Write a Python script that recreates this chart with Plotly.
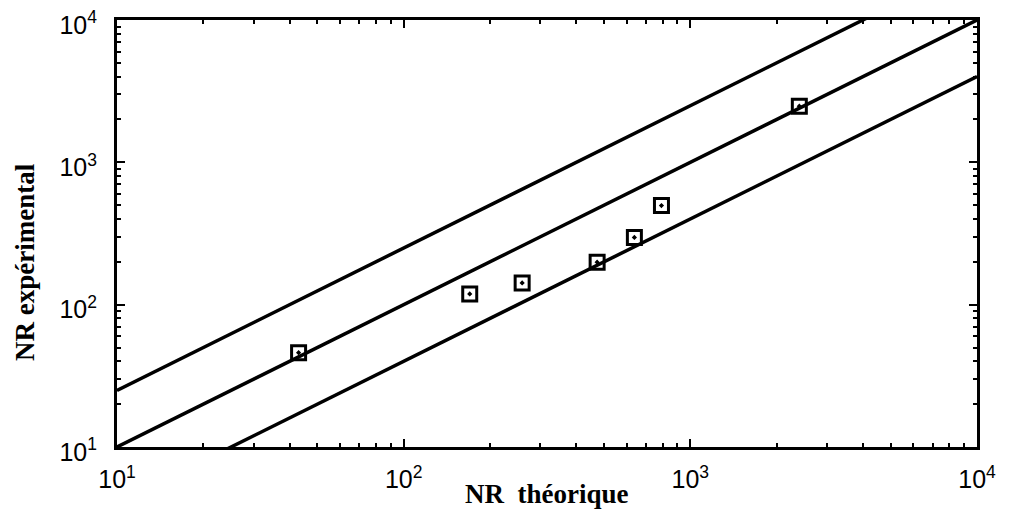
import plotly.graph_objects as go

# ---- data ----
nr_theorique = [43, 170, 259, 473, 638, 793, 2400]
nr_experimental = [46, 119, 142, 199, 297, 497, 2480]

# reference lines y = ratio * x
line_ratios = [2.5, 1.0, 0.4]
line_x = [10, 10000]

decade_vals = [10, 100, 1000, 10000]
decade_text = ["10<sup>1</sup>", "10<sup>2</sup>", "10<sup>3</sup>", "10<sup>4</sup>"]
minor_vals = [m * d for d in [10, 100, 1000] for m in range(2, 10)]

# page body has an 8px margin: figure is drawn at (8, 8)
OFF = 8
W, H = 1011 - OFF, 510 - OFF
L, T = 117 - OFF, 20 - OFF
pw, ph = 860, 427
R, B = W - L - pw, H - T - ph

fig = go.Figure()
for r in line_ratios:
    fig.add_trace(go.Scatter(
        x=line_x, y=[r * v for v in line_x], mode="lines",
        line=dict(color="black", width=3.5), showlegend=False, hoverinfo="skip"))

fig.add_trace(go.Scatter(
    x=nr_theorique, y=nr_experimental, mode="markers",
    marker=dict(symbol="square-open-dot", size=14, color="black",
                line=dict(color="black", width=3)),
    showlegend=False))

tickfont = dict(family="Liberation Sans, Arial, sans-serif", size=25, color="black")
axis_common = dict(
    type="log", showgrid=False, zeroline=False, automargin=False,
    showline=True, linecolor="black", linewidth=3, mirror="allticks",
    ticks="inside", ticklen=8, tickwidth=2, tickcolor="black",
    tickmode="array", tickvals=decade_vals, ticktext=decade_text,
    tickfont=tickfont, ticklabeloverflow="allow",
    minor=dict(ticks="inside", ticklen=4, tickwidth=2, tickcolor="black",
               tickmode="array", tickvals=minor_vals, showgrid=False),
)

fig.update_xaxes(range=[1, 4], ticklabelstandoff=8, **axis_common)
fig.update_yaxes(range=[1, 4], ticklabelstandoff=12, ticklabelshift=5, **axis_common)

titlefont = dict(family="Liberation Serif, Times New Roman, serif", size=27, color="black")
fig.add_annotation(text="<b>NR  théorique</b>", xref="paper", yref="paper",
                   x=(547 - 117) / pw, y=(447 - 494) / ph, xanchor="center", yanchor="middle",
                   showarrow=False, font=titlefont)
fig.add_annotation(text="<b>NR expérimental</b>", xref="paper", yref="paper",
                   x=(25 - 117) / pw, y=(447 - 262) / ph, xanchor="center", yanchor="middle",
                   textangle=-90, showarrow=False, font=titlefont)

fig.update_layout(
    width=W, height=H,
    margin=dict(l=L, r=R, t=T, b=B, autoexpand=False),
    plot_bgcolor="white", paper_bgcolor="white",
)

fig.write_html("out.html")
